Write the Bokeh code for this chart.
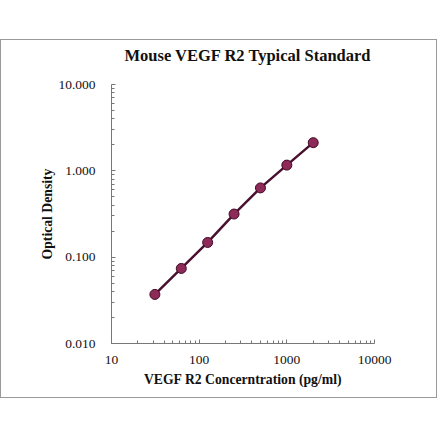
from bokeh.plotting import figure
from bokeh.models import FixedTicker, Spacer, Title
from bokeh.layouts import column
from bokeh.embed import file_html
from bokeh.resources import INLINE

concentration = [31.25, 62.5, 125, 250, 500, 1000, 2000]
optical_density = [0.037, 0.074, 0.148, 0.316, 0.634, 1.165, 2.12]
x_ticks = [10, 100, 1000, 10000]
x_tick_labels = ["10", "100", "1000", "10000"]
y_ticks = [0.01, 0.1, 1, 10]
y_tick_labels = ["0.010", "0.100", "1.000", "10.000"]
title_text = "Mouse VEGF R2 Typical Standard"

SERIF = "Liberation Serif"

p = figure(width=437, height=359, x_axis_type="log", y_axis_type="log",
           x_range=(10, 10000), y_range=(0.01, 10),
           output_backend="svg", toolbar_location=None,
           min_border_left=110, min_border_right=64,
           min_border_top=44, min_border_bottom=56,
           title=title_text)
p.styles = {"border": "1px solid #9a9a9a", "box-sizing": "border-box"}
p.title.align = "left"
p.title.offset = 13
p.title.text_font = SERIF
p.title.text_font_size = "16.5px"
p.title.text_font_style = "bold"
p.title.text_color = "#111111"
p.title.standoff = 10
p.title.vertical_align = "top"
# invisible spacer between the title and the plot area
p.add_layout(Title(text=" ", text_font_size="1px", standoff=10), "above")
p.outline_line_color = None
p.grid.visible = False
p.background_fill_color = "white"
p.border_fill_color = "white"

p.line(concentration, optical_density, line_color="#4a1030", line_width=2.5)
p.scatter(concentration, optical_density, size=10, fill_color="#8e2a58",
          line_color="#3d0c24", line_width=1)

minor_x = [m * 10 ** e for e in (1, 2, 3) for m in range(2, 10)]
minor_y = [m * 10 ** e for e in (-2, -1, 0) for m in range(2, 10)]

for ax, ticks, labels, minors in ((p.xaxis[0], x_ticks, x_tick_labels, minor_x),
                                  (p.yaxis[0], y_ticks, y_tick_labels, minor_y)):
    ax.ticker = FixedTicker(ticks=ticks, minor_ticks=minors)
    ax.major_label_overrides = {t: l for t, l in zip(ticks, labels)}
    ax.axis_line_color = "#777777"
    ax.major_tick_line_color = "#777777"
    ax.minor_tick_line_color = "#777777"
    ax.major_tick_in = 4
    ax.major_tick_out = 0
    ax.minor_tick_in = 3
    ax.minor_tick_out = 0
    ax.major_label_text_font = SERIF
    ax.major_label_text_font_size = "13.5px"
    ax.major_label_text_color = "#111111"
    ax.axis_label_text_font = SERIF
    ax.axis_label_text_font_size = "13.7px"
    ax.axis_label_text_font_style = "bold"
    ax.axis_label_text_color = "#111111"

p.xaxis.axis_label = "VEGF R2 Concerntration (pg/ml)"
p.yaxis.axis_label = "Optical Density"
p.xaxis.major_label_standoff = 12
p.yaxis.major_label_standoff = 16
p.xaxis.axis_label_standoff = 5
p.yaxis.axis_label_standoff = 0

layout = column(Spacer(height=39), p)
open("out.html", "w").write(file_html(layout, INLINE))
